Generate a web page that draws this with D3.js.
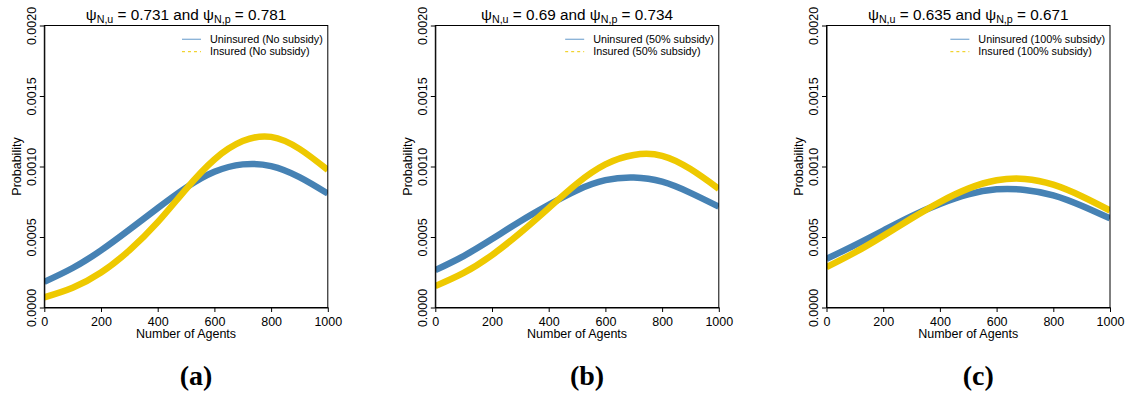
<!DOCTYPE html>
<html>
<head>
<meta charset="utf-8">
<script src="https://cdn.jsdelivr.net/npm/d3@7"></script>
<style>
  html, body { margin: 0; padding: 0; background: #fff; }
  svg { display: block; }
  text { font-family: "Liberation Sans", Arial, Helvetica, sans-serif; fill: #000; }
  text.tag { font-family: "Liberation Serif", "Times New Roman", serif; font-weight: bold; }
</style>
</head>
<body>
<svg id="chart" width="1131" height="398"></svg>
<script>
// Number of agents at which the probabilities are tabulated
const agents = [0, 100, 200, 300, 400, 500, 600, 700, 800, 900, 1000];

// Probability of each agent count, uninsured vs insured, for three subsidy levels
const uninsuredNoSubsidy  = [0.000182, 0.000280, 0.000405, 0.000552, 0.000705, 0.000850, 0.000962, 0.001015, 0.001003, 0.000925, 0.000808];
const insuredNoSubsidy    = [0.000072, 0.000140, 0.000248, 0.000405, 0.000605, 0.000840, 0.001050, 0.001180, 0.001210, 0.001125, 0.000975];
const uninsured50Subsidy  = [0.000265, 0.000365, 0.000485, 0.000612, 0.000728, 0.000832, 0.000903, 0.000922, 0.000892, 0.000813, 0.000715];
const insured50Subsidy    = [0.000152, 0.000245, 0.000372, 0.000530, 0.000705, 0.000880, 0.001015, 0.001082, 0.001076, 0.000982, 0.000842];
const uninsured100Subsidy = [0.000345, 0.000443, 0.000546, 0.000648, 0.000735, 0.000803, 0.000838, 0.000834, 0.000796, 0.000722, 0.000632];
const insured100Subsidy   = [0.000286, 0.000390, 0.000508, 0.000632, 0.000748, 0.000843, 0.000902, 0.000912, 0.000871, 0.000789, 0.000688];

const psiUninsured = ["0.731", "0.69", "0.635"];
const psiInsured   = ["0.781", "0.734", "0.671"];
const subsidyNames = ["No subsidy", "50% subsidy", "100% subsidy"];
const panelTags    = ["(a)", "(b)", "(c)"];

const xTickValues = [0, 200, 400, 600, 800, 1000];
const yTickValues = [0, 0.0005, 0.0010, 0.0015, 0.0020];
const yTickLabels = ["0.0000", "0.0005", "0.0010", "0.0015", "0.0020"];

const uninsuredSeries = [uninsuredNoSubsidy, uninsured50Subsidy, uninsured100Subsidy];
const insuredSeries   = [insuredNoSubsidy, insured50Subsidy, insured100Subsidy];

// Layout of the three panels
const panelLefts = [44.3, 435.3, 826.5];
const plotW = 283.5;
const plotTop = 25.5, plotBottom = 307.5;
const blue = "#4682B4", gold = "#EEC900";

const svg = d3.select("#chart");
svg.append("rect").attr("width", 1131).attr("height", 398).attr("fill", "#fff");
const defs = svg.append("defs");

panelLefts.forEach((left, i) => {
  const x = d3.scaleLinear().domain([0, 1000]).range([left, left + plotW]);
  const y = d3.scaleLinear().domain([0, 0.002]).range([plotBottom, plotTop]);
  const g = svg.append("g");

  // clip the curves to the plotting region
  const clipId = "clip" + i;
  defs.append("clipPath").attr("id", clipId)
    .append("rect").attr("x", left).attr("y", plotTop)
    .attr("width", plotW).attr("height", plotBottom - plotTop);

  const line = d3.line()
    .x((d, k) => x(agents[k]))
    .y(d => y(d))
    .curve(d3.curveNatural);

  const curves = g.append("g").attr("clip-path", `url(#${clipId})`);
  curves.append("path").datum(uninsuredSeries[i])
    .attr("d", line).attr("fill", "none")
    .attr("stroke", blue).attr("stroke-width", 6.5);
  curves.append("path").datum(insuredSeries[i])
    .attr("d", line).attr("fill", "none")
    .attr("stroke", gold).attr("stroke-width", 6.5);

  // frame
  g.append("rect").attr("x", left).attr("y", plotTop)
    .attr("width", plotW).attr("height", plotBottom - plotTop)
    .attr("fill", "none").attr("stroke", "#000").attr("stroke-width", 1);

  // x axis
  const xAxis = g.append("g").attr("transform", `translate(0,${plotBottom})`)
    .call(d3.axisBottom(x).tickValues(xTickValues).tickFormat(d3.format("d"))
      .tickSize(4.5).tickSizeOuter(0).tickPadding(2));
  xAxis.select(".domain").attr("stroke", "#000");
  xAxis.selectAll(".tick line").attr("stroke", "#000");
  xAxis.selectAll(".tick text")
    .attr("font-size", 12.5).attr("dy", null).attr("y", 18.7);

  // y axis with rotated labels
  const yAxis = g.append("g").attr("transform", `translate(${left},0)`)
    .call(d3.axisLeft(y).tickValues(yTickValues)
      .tickFormat((d, k) => yTickLabels[k]).tickSize(4.5).tickSizeOuter(0));
  yAxis.select(".domain").attr("stroke", "#000");
  yAxis.selectAll(".tick line").attr("stroke", "#000");
  yAxis.selectAll(".tick text")
    .attr("font-size", 12.5)
    .attr("transform", "rotate(-90)")
    .attr("text-anchor", "middle")
    .attr("x", 0).attr("y", -8.3).attr("dy", null);

  // axis titles
  g.append("text").attr("x", left + plotW / 2).attr("y", 338)
    .attr("text-anchor", "middle").attr("font-size", 12.5).text("Number of Agents");
  g.append("text")
    .attr("transform", `translate(${left - 23.8},${(plotTop + plotBottom) / 2}) rotate(-90)`)
    .attr("text-anchor", "middle").attr("font-size", 12.5).text("Probability");

  // panel title with subscripted psi
  const title = g.append("text").attr("x", left + plotW / 2).attr("y", 19.5)
    .attr("text-anchor", "middle").attr("font-size", 15.3);
  title.append("tspan").text("ψ");
  title.append("tspan").attr("font-size", 10.7).attr("dy", 3.5).text("N,u");
  title.append("tspan").attr("dy", -3.5).text(" = " + psiUninsured[i] + " and ψ");
  title.append("tspan").attr("font-size", 10.7).attr("dy", 3.5).text("N,p");
  title.append("tspan").attr("dy", -3.5).text(" = " + psiInsured[i]);

  // legend in the top right corner
  const labels = ["Uninsured (" + subsidyNames[i] + ")", "Insured (" + subsidyNames[i] + ")"];
  const legend = g.append("g");
  const texts = labels.map((t, k) => legend.append("text")
    .attr("y", 42.8 + k * 12.3).attr("font-size", 10.8).attr("fill", "#222").text(t));
  const maxW = d3.max(texts, t => t.node().getComputedTextLength());
  const textX = left + plotW - 5 - maxW;
  texts.forEach(t => t.attr("x", textX));
  legend.append("line").attr("x1", textX - 28).attr("x2", textX - 9)
    .attr("y1", 39.3).attr("y2", 39.3)
    .attr("stroke", "#86B0D6").attr("stroke-width", 1.3);
  legend.append("line").attr("x1", textX - 28).attr("x2", textX - 9)
    .attr("y1", 51.7).attr("y2", 51.7)
    .attr("stroke", gold).attr("stroke-width", 1).attr("stroke-dasharray", "3,3");

  // sub-figure tag
  g.append("text").attr("class", "tag").attr("x", left + 151.7).attr("y", 385)
    .attr("text-anchor", "middle").attr("font-size", 28)
    .text(panelTags[i]);
});
</script>
</body>
</html>
